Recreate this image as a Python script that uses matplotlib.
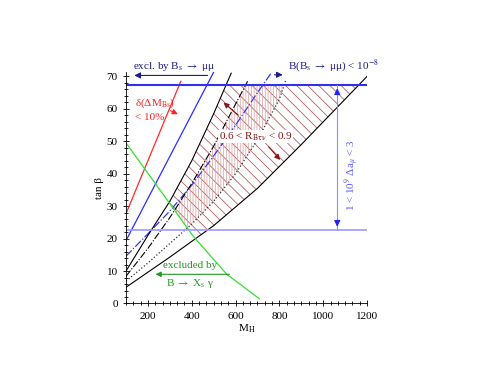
import matplotlib
import numpy as np

matplotlib.use("Agg")
import matplotlib.pyplot as plt
from matplotlib.ticker import MultipleLocator, AutoMinorLocator

plt.rcParams["font.family"] = ["Liberation Serif", "DejaVu Serif"]
plt.rcParams["mathtext.fontset"] = "stix"
plt.rcParams["hatch.linewidth"] = 0.55

# curves: M_H and tan(beta)
m_red = [100, 350]
tb_red = [27.7, 68.5]
m_blue = [100, 500]
tb_blue = [19.4, 71.3]
m_bsmumu = [100, 200, 300, 400, 500, 600, 700, 765]
tb_bsmumu = [14.6, 21.5, 28.5, 36.5, 45.5, 55.0, 65.0, 71.3]
m_r06 = [100, 200, 300, 400, 500, 580]
tb_r06 = [10.0, 21.0, 31.5, 44.0, 58.5, 71.0]
m_r09 = [100, 300, 500, 700, 900, 1100, 1200]
tb_r09 = [5.0, 14.3, 24.0, 35.5, 49.0, 63.0, 70.0]
m_dd1 = [100, 200, 300, 400, 500, 600, 655]
tb_dd1 = [8.4, 17.0, 26.5, 37.0, 48.5, 61.5, 68.5]
m_dd2 = [100, 200, 300, 400, 500, 600, 700, 800, 830]
tb_dd2 = [6.9, 12.5, 18.5, 24.5, 31.5, 40.0, 50.5, 63.0, 69.0]
m_bsg = [100, 255, 407, 560, 708]
tb_bsg = [49.5, 35.0, 20.7, 9.0, 1.5]
amu_lo, amu_hi = 22.8, 67.2

fig = plt.figure(figsize=(4.94, 3.82), dpi=100)
ax = fig.add_axes([0.2551, 0.2055, 0.4879, 0.6055])

# hatched regions
mm = np.linspace(100, 1200, 2201)
bsg = np.interp(mm, m_bsg, tb_bsg)
top = np.minimum(np.interp(mm, m_r06, tb_r06), amu_hi)
bot = np.maximum(np.interp(mm, m_r09, tb_r09), bsg)
ax.fill_between(mm, bot, top, where=top > bot, interpolate=True, facecolor="none",
                edgecolor="#b05555", linewidth=0, hatch="\\\\\\", zorder=1)
top2 = np.minimum(np.interp(mm, m_dd1, tb_dd1), amu_hi)
bot2 = np.maximum(np.interp(mm, m_dd2, tb_dd2), bsg)
ax.fill_between(mm, bot2, top2, where=top2 > bot2, interpolate=True, facecolor="none",
                edgecolor="#dca5a5", linewidth=0, hatch="||||||", zorder=1)

ax.plot(m_red, tb_red, color="#ff2a2a", lw=0.9)
ax.plot(m_blue, tb_blue, color="#2b2bff", lw=0.9)
ax.plot(m_bsmumu, tb_bsmumu, color="#3535ff", lw=0.9, ls="-.")
ax.plot(m_r06, tb_r06, color="black", lw=0.8)
ax.plot(m_r09, tb_r09, color="black", lw=0.8)
ax.plot(m_dd1, tb_dd1, color="black", lw=0.8, ls="-.")
ax.plot(m_dd2, tb_dd2, color="#333333", lw=0.9, ls=":")
ax.plot(m_bsg, tb_bsg, color="#33e033", lw=0.9)
ax.axhline(amu_hi, color="#3030ee", lw=1.5)
ax.axhline(amu_lo, color="#9a9aff", lw=1.2)

# annotations
navy = "#1c1c8a"
ax.annotate("", xy=(125, 70.3), xytext=(485, 70.3), annotation_clip=False,
            arrowprops=dict(arrowstyle="-|>", color=navy, lw=0.8, mutation_scale=9))
ax.text(318, 73.2, r"excl. by B$_{\rm s}$ $\rightarrow$ μμ", color=navy, fontsize=8,
        ha="center", va="center")
ax.annotate("", xy=(828, 70.5), xytext=(765, 70.5), annotation_clip=False,
            arrowprops=dict(arrowstyle="-|>", color=navy, lw=0.8, mutation_scale=9))
ax.text(838, 73.2, r"B(B$_{\rm s}$ $\rightarrow$ μμ) < 10$^{-8}$", color=navy, fontsize=8,
        ha="left", va="center")

ax.text(140, 61.8, r"δ(ΔM$_{\rm Bs}$)", color="#ff2020", fontsize=8, ha="left", va="center")
ax.text(140, 57.3, "< 10%", color="#ff2020", fontsize=8, ha="left", va="center")
ax.annotate("", xy=(348, 58.0), xytext=(292, 59.8),
            arrowprops=dict(arrowstyle="-|>", color="#ff2020", lw=0.8, mutation_scale=8))

ax.text(392, 11.6, "excluded by", color="#1f9a1f", fontsize=8, ha="center", va="center")
ax.text(392, 6.3, r"B $\rightarrow$ X$_{\rm s}$ γ", color="#1f9a1f", fontsize=8,
        ha="center", va="center")
ax.annotate("", xy=(222, 9.0), xytext=(585, 9.0),
            arrowprops=dict(arrowstyle="-|>", color="#1f9a1f", lw=0.8, mutation_scale=8))

dred = "#8b1515"
ax.text(692, 51.5, r"0.6 < R$_{\rm B\tau\nu}$ < 0.9", color=dred, fontsize=8,
        ha="center", va="center", bbox=dict(facecolor="white", edgecolor="none", pad=0.5))
ax.annotate("", xy=(535, 62.5), xytext=(622, 57.5),
            arrowprops=dict(arrowstyle="-|>", color=dred, lw=0.8, mutation_scale=8))
ax.annotate("", xy=(812, 43.6), xytext=(742, 49.0),
            arrowprops=dict(arrowstyle="-|>", color=dred, lw=0.8, mutation_scale=8))

# g-2 band arrow: light shaft, dark heads
ax.plot([1064, 1064], [amu_lo, amu_hi], color="#8c8cff", lw=0.8)
for y_head, y_tail in ((amu_hi, amu_hi - 3), (amu_lo, amu_lo + 3)):
    ax.annotate("", xy=(1064, y_head), xytext=(1064, y_tail),
                arrowprops=dict(arrowstyle="-|>", color="#2020ff", lw=0.8, mutation_scale=9))
ax.text(1134, 39.5, r"1 < 10$^{9}$ Δa$_{\mu}$ < 3", color="#5a5aff", fontsize=8,
        rotation=90, ha="center", va="center")

ax.set_xlim(100, 1200)
ax.set_ylim(0, 71.3)
ax.xaxis.set_major_locator(MultipleLocator(200))
ax.xaxis.set_minor_locator(AutoMinorLocator(6))
ax.yaxis.set_major_locator(MultipleLocator(10))
ax.yaxis.set_minor_locator(MultipleLocator(2))
ax.tick_params(which="both", direction="inout", labelsize=8, width=0.6)
ax.tick_params(which="major", length=5)
ax.tick_params(which="minor", length=3)
for s in ("top", "right"):
    ax.spines[s].set_visible(False)
ax.spines["left"].set_linewidth(0.6)
ax.spines["bottom"].set_linewidth(0.6)
ax.set_xlabel(r"M$_{\rm H}$", fontsize=8, labelpad=1)
ax.set_ylabel("tan β", fontsize=8, labelpad=2)

fig.savefig("out.png", dpi=100)
